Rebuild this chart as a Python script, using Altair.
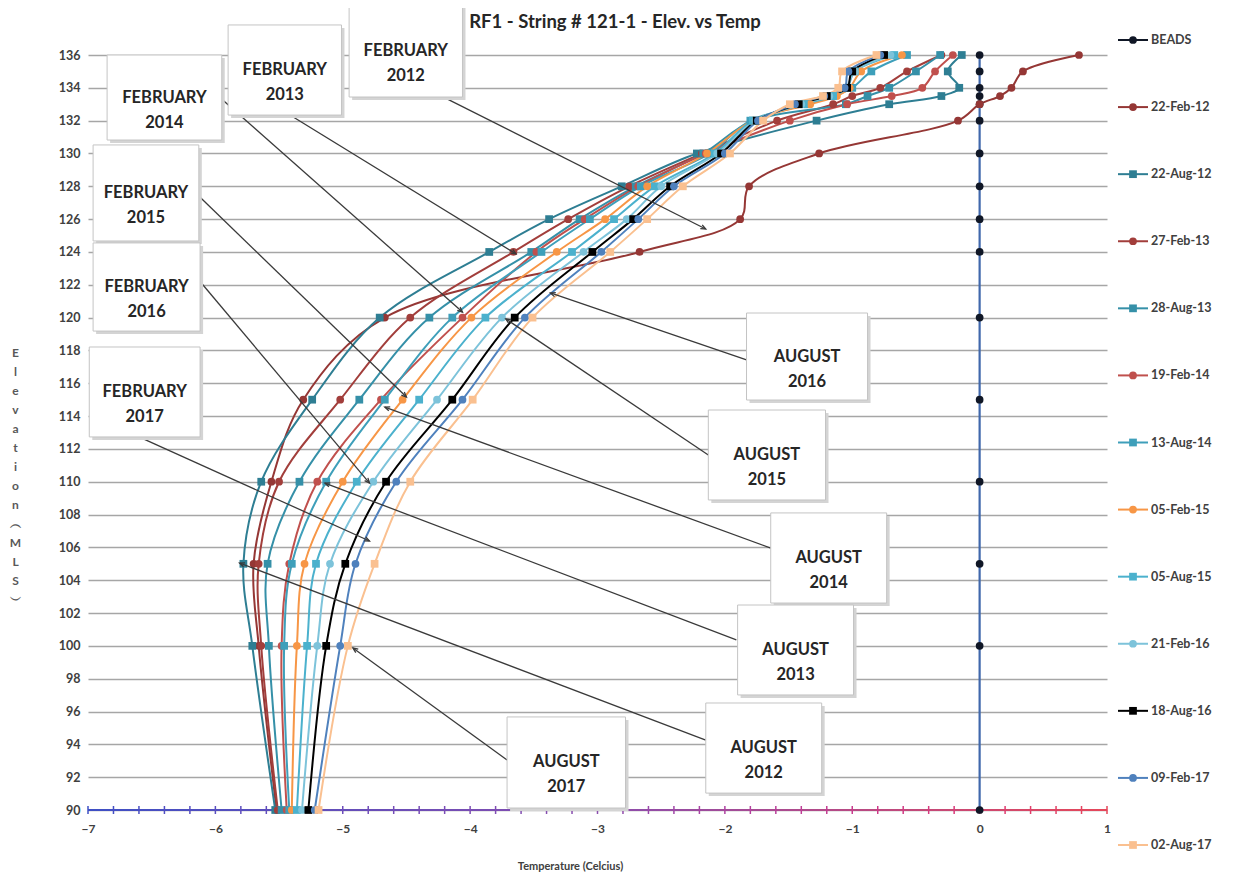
import math
import altair as alt
import numpy as np
import pandas as pd

# ---------------- data ----------------
ELEV = [136, 135, 134, 133.5, 133, 132, 130, 128, 126, 124, 120, 115, 110, 105, 100, 90]

SERIES = ["BEADS", "22-Feb-12", "22-Aug-12", "27-Feb-13", "28-Aug-13", "19-Feb-14",
          "13-Aug-14", "05-Feb-15", "05-Aug-15", "21-Feb-16", "18-Aug-16",
          "09-Feb-17", "02-Aug-17"]

BEADS = [0.0] * 16
FEB12 = [0.78, 0.34, 0.25, 0.16, 0.00, -0.17, -1.26, -1.81, -1.88, -2.67, -4.67, -5.31, -5.56, -5.70, -5.66, -5.52]
AUG12 = [-0.14, -0.25, -0.16, -0.30, -0.71, -1.28, -2.22, -2.81, -3.38, -3.85, -4.71, -5.24, -5.64, -5.78, -5.71, -5.53]
FEB13 = [-0.30, -0.57, -0.78, -1.00, -1.15, -1.59, -2.18, -2.75, -3.23, -3.66, -4.47, -5.02, -5.50, -5.66, -5.64, -5.51]
AUG13 = [-0.31, -0.50, -0.71, -0.88, -1.05, -1.78, -2.17, -2.70, -3.14, -3.52, -4.32, -4.87, -5.34, -5.59, -5.58, -5.48]
FEB14 = [-0.21, -0.35, -0.45, -0.69, -1.04, -1.49, -2.15, -2.68, -3.10, -3.48, -4.06, -4.70, -5.20, -5.42, -5.48, -5.44]
AUG14 = [-0.57, -0.85, -1.00, -1.15, -1.35, -1.80, -2.12, -2.66, -3.06, -3.44, -4.14, -4.67, -5.13, -5.40, -5.46, -5.42]
FEB15 = [-0.61, -0.93, -1.02, -1.12, -1.33, -1.78, -2.14, -2.61, -2.94, -3.32, -3.99, -4.53, -5.00, -5.30, -5.36, -5.40]
AUG15 = [-0.67, -0.98, -1.04, -1.15, -1.38, -1.78, -2.08, -2.55, -2.87, -3.20, -3.88, -4.40, -4.89, -5.21, -5.28, -5.36]
FEB16 = [-0.70, -0.98, -1.05, -1.18, -1.40, -1.76, -2.06, -2.50, -2.77, -3.11, -3.75, -4.26, -4.76, -5.10, -5.20, -5.32]
AUG16 = [-0.75, -1.00, -1.04, -1.20, -1.42, -1.75, -2.03, -2.43, -2.72, -3.04, -3.65, -4.14, -4.66, -4.98, -5.13, -5.27]
FEB17 = [-0.78, -1.03, -1.06, -1.22, -1.45, -1.74, -2.00, -2.40, -2.68, -2.97, -3.57, -4.06, -4.58, -4.90, -5.02, -5.22]
AUG17 = [-0.81, -1.08, -1.11, -1.23, -1.49, -1.70, -1.96, -2.33, -2.61, -2.90, -3.51, -3.98, -4.47, -4.75, -4.96, -5.19]

VALUES = [BEADS, FEB12, AUG12, FEB13, AUG13, FEB14, AUG14, FEB15, AUG15, FEB16, AUG16, FEB17, AUG17]

X_TICK_LABELS = [-7, -6, -5, -4, -3, -2, -1, 0, 1]
Y_TICK_LABELS = list(range(90, 137, 2))

# annotations (data units)
ANN_LABEL = ["FEBRUARY\n2012", "FEBRUARY\n2013", "FEBRUARY\n2014", "FEBRUARY\n2015",
             "FEBRUARY\n2016", "FEBRUARY\n2017", "AUGUST\n2016", "AUGUST\n2015",
             "AUGUST\n2014", "AUGUST\n2013", "AUGUST\n2012", "AUGUST\n2017"]
BOX_X1 = [-4.95, -5.90, -6.85, -6.96, -6.96, -6.99, -1.83, -2.13, -1.64, -1.90, -2.15, -3.71]
BOX_X2 = [-4.06, -5.01, -5.95, -6.13, -6.12, -6.12, -0.88, -1.21, -0.73, -0.99, -1.24, -2.78]
BOX_TOP = [139.05, 137.83, 136.00, 130.52, 124.55, 118.21, 120.28, 114.37, 108.10, 102.49, 96.52, 95.67]
BOX_BOT = [133.44, 132.34, 130.82, 124.67, 119.18, 112.73, 114.98, 108.89, 102.61, 97.01, 91.03, 90.12]
ARROW_X1 = [-4.24, -5.44, -5.96, -6.13, -6.13, -6.60, -1.83, -2.13, -1.64, -1.91, -2.15, -3.71]
ARROW_Y1 = [133.56, 132.47, 133.38, 127.41, 122.29, 112.73, 117.42, 111.63, 105.96, 100.36, 94.26, 93.05]
ARROW_X2 = [-2.15, -3.64, -4.06, -4.50, -4.79, -4.79, -3.37, -3.72, -4.67, -5.14, -5.81, -4.92]
ARROW_Y2 = [125.40, 123.88, 120.34, 115.16, 109.92, 106.39, 121.50, 119.92, 114.55, 109.92, 105.05, 99.87]

TITLE = "RF1 - String # 121-1  - Elev. vs Temp"
X_TITLE = "Temperature (Celcius)"
Y_TITLE = ["E", "l", "e", "v", "a", "t", "i", "o", "n", " ", "︵", "M", "L", "S", "︶"]

# ---------------- styles ----------------
FONT = "Lato"
COLORS = ["#101726", "#953735", "#2E7E93", "#A23E3B", "#3590A8", "#C0504D",
          "#3E9FBA", "#F79646", "#4BB1CD", "#7DC3DA", "#000000", "#4F81BD", "#FAC090"]
SHAPES = ["circle", "circle", "square", "circle", "square", "circle",
          "square", "circle", "square", "circle", "square", "circle", "square"]
SIZES = [60, 60, 75, 60, 75, 60, 75, 60, 75, 55, 95, 35, 80]
WIDTHS = [2, 2, 2, 2, 2, 2, 2, 2, 2, 2, 2.6, 2, 2]

W, H = 1019, 755
XS = alt.Scale(domain=[-7, 1], nice=False, zero=False)
YS = alt.Scale(domain=[90, 136], nice=False, zero=False)

rows = []
for s, vals in zip(SERIES, VALUES):
    for i, (e, t) in enumerate(zip(ELEV, vals)):
        rows.append({"series": s, "elev": e, "temp": t, "idx": i})
df = pd.DataFrame(rows)

color = alt.Color("series:N", scale=alt.Scale(domain=SERIES, range=COLORS), legend=None)
shape = alt.Shape("series:N", scale=alt.Scale(domain=SERIES, range=SHAPES), legend=None)
size = alt.Size("series:N", scale=alt.Scale(domain=SERIES, range=SIZES), legend=None)
swidth = alt.StrokeWidth("series:N", scale=alt.Scale(domain=SERIES, range=WIDTHS), legend=None)

x_axis = alt.Axis(values=X_TICK_LABELS, tickCount=40, format="d", grid=False, ticks=False, domain=False,
                  labelFont=FONT, labelFontWeight="bold", labelFontSize=12, labelColor="#404040",
                  labelPadding=13, labelFlush=False, labelOverlap=False,
                  title=X_TITLE, titleFont=FONT, titleFontSize=11, titleFontWeight="bold",
                  titleColor="#404040", titleX=482, titleY=56, titleAlign="center",
                  titleBaseline="middle")
y_axis = alt.Axis(values=Y_TICK_LABELS, tickCount=60, grid=True, gridColor="#A6A6A6", gridWidth=1.5,
                  ticks=False, domain=False, labelFont=FONT, labelFontWeight="bold",
                  labelFontSize=12.5, labelColor="#404040", labelPadding=8, labelOverlap=False,
                  title=Y_TITLE, titleAngle=0, titleX=-73, titleY=297, titleAlign="center",
                  titleBaseline="middle", titleLineHeight=19, titleFont=FONT,
                  titleFontSize=12, titleFontWeight="bold", titleColor="#595959")

# series lines (axes attached here)
lines = alt.Chart(df[df.series != "BEADS"]).mark_line(interpolate="catmull-rom").encode(
    x=alt.X("temp:Q", scale=XS, axis=x_axis),
    y=alt.Y("elev:Q", scale=YS, axis=y_axis),
    color=color, strokeWidth=swidth, detail="series:N",
    order=alt.Order("idx:Q"),
)

beads_line = alt.Chart(df[df.series == "BEADS"]).mark_line(color="#4068AC", strokeWidth=2.2).encode(
    x=alt.X("temp:Q", scale=XS), y=alt.Y("elev:Q", scale=YS), order=alt.Order("idx:Q"))

points = alt.Chart(df).mark_point(filled=True, opacity=1).encode(
    x=alt.X("temp:Q", scale=XS), y=alt.Y("elev:Q", scale=YS),
    color=color, shape=shape, size=size)

# x-axis line with colour gradient and crossing ticks
grad = alt.LinearGradient(gradient="linear", x1=0, x2=1, y1=0, y2=0,
                          stops=[alt.GradientStop(color="#3E4FC4", offset=0),
                                 alt.GradientStop(color="#8A4DAE", offset=0.5),
                                 alt.GradientStop(color="#E5475A", offset=1)])
axis_df = pd.DataFrame({"a": [X_TICK_LABELS[0]], "b": [X_TICK_LABELS[-1]], "e": [ELEV[-1]]})
xline = alt.Chart(axis_df).mark_rect(color=grad, yOffset=-1, y2Offset=1).encode(
    x=alt.X("a:Q", scale=XS), x2="b:Q", y=alt.Y("e:Q", scale=YS), y2="e:Q")

tick_df = pd.DataFrame({"tx": np.round(np.arange(-7, 1.0001, 0.2), 2), "e": ELEV[-1]})
xticks = alt.Chart(tick_df).mark_rule(strokeWidth=1.5, yOffset=-4, y2Offset=4).encode(
    x=alt.X("tx:Q", scale=XS), y=alt.Y("e:Q", scale=YS), y2="e:Q",
    stroke=alt.Stroke("tx:Q", scale=alt.Scale(domain=[-7, -3, 1],
                      range=["#3E4FC4", "#8A4DAE", "#E5475A"]), legend=None))

# annotations
px_x = W / 8.0
px_y = H / 46.0
angles = []
for x1, y1, x2, y2 in zip(ARROW_X1, ARROW_Y1, ARROW_X2, ARROW_Y2):
    dx = (x2 - x1) * px_x
    dys = -(y2 - y1) * px_y
    angles.append(math.degrees(math.atan2(dx, -dys)) % 360)
ann = pd.DataFrame({"label": ANN_LABEL, "bx1": BOX_X1, "bx2": BOX_X2, "bt": BOX_TOP, "bb": BOX_BOT,
                    "ax1": ARROW_X1, "ay1": ARROW_Y1, "ax2": ARROW_X2, "ay2": ARROW_Y2,
                    "ang": angles})
ann["cx"] = (ann.bx1 + ann.bx2) / 2
ann["cy"] = (ann.bt + ann.bb) / 2

arrows = alt.Chart(ann).mark_rule(color="#3A3A3A", strokeWidth=1.3).encode(
    x=alt.X("ax1:Q", scale=XS), y=alt.Y("ay1:Q", scale=YS), x2="ax2:Q", y2="ay2:Q")
heads = alt.Chart(ann).mark_point(shape="M-0.55,1.3L0,0L0.55,1.3", filled=False, size=60,
                                   strokeWidth=1.3, color="#3A3A3A", opacity=1).encode(
    x=alt.X("ax2:Q", scale=XS), y=alt.Y("ay2:Q", scale=YS), angle=alt.Angle("ang:Q", scale=None))
shadow = alt.Chart(ann).mark_rect(color="#D4D4D4", xOffset=3, x2Offset=3, yOffset=3, y2Offset=3).encode(
    x=alt.X("bx1:Q", scale=XS), x2="bx2:Q", y=alt.Y("bt:Q", scale=YS), y2="bb:Q")
boxes = alt.Chart(ann).mark_rect(fill="white", stroke="#C4C4C4", strokeWidth=1).encode(
    x=alt.X("bx1:Q", scale=XS), x2="bx2:Q", y=alt.Y("bt:Q", scale=YS), y2="bb:Q")
btext = alt.Chart(ann).mark_text(lineBreak="\n", lineHeight=25, font=FONT, fontSize=16.5,
                                 fontWeight="bold", color="#262626", align="center",
                                 baseline="middle").encode(
    x=alt.X("cx:Q", scale=XS), y=alt.Y("cy:Q", scale=YS), text="label:N")

title = alt.Chart(pd.DataFrame({"t": [TITLE]})).mark_text(
    font=FONT, fontSize=18.5, fontWeight="bold", color="#262626", align="center",
    baseline="middle").encode(x=alt.value(527), y=alt.value(-33), text="t:N")

main = alt.layer(lines, xline, xticks, beads_line, points, arrows, heads,
                 shadow, boxes, btext, title)

# legend
leg_df = pd.DataFrame({"series": SERIES})
LY = alt.Y("series:N", scale=alt.Scale(type="point", domain=SERIES, range=[-15, 790], padding=0), axis=None)
leg_line = alt.Chart(leg_df).mark_rule(strokeWidth=2).encode(
    x=alt.value(1030), x2=alt.value(1060), y=LY, color=color)
leg_pt = alt.Chart(leg_df).mark_point(filled=True, opacity=1).encode(
    x=alt.value(1045), y=LY, color=color, shape=shape, size=size)
leg_txt = alt.Chart(leg_df).mark_text(align="left", baseline="middle", font=FONT, fontSize=12.5,
                                      fontWeight="bold", color="#404040").encode(
    x=alt.value(1063), y=LY, text="series:N")
legend = alt.layer(leg_line, leg_pt, leg_txt)

chart = alt.layer(main, legend).resolve_scale(y="independent").properties(
    width=W, height=H,
    autosize=alt.AutoSizeParams(type="none"),
    padding={"left": 80, "top": 47, "right": 112, "bottom": 62},
    background="white",
).configure_view(stroke=None)

chart.save("out.html", embed_options={"renderer": "svg", "actions": False})
